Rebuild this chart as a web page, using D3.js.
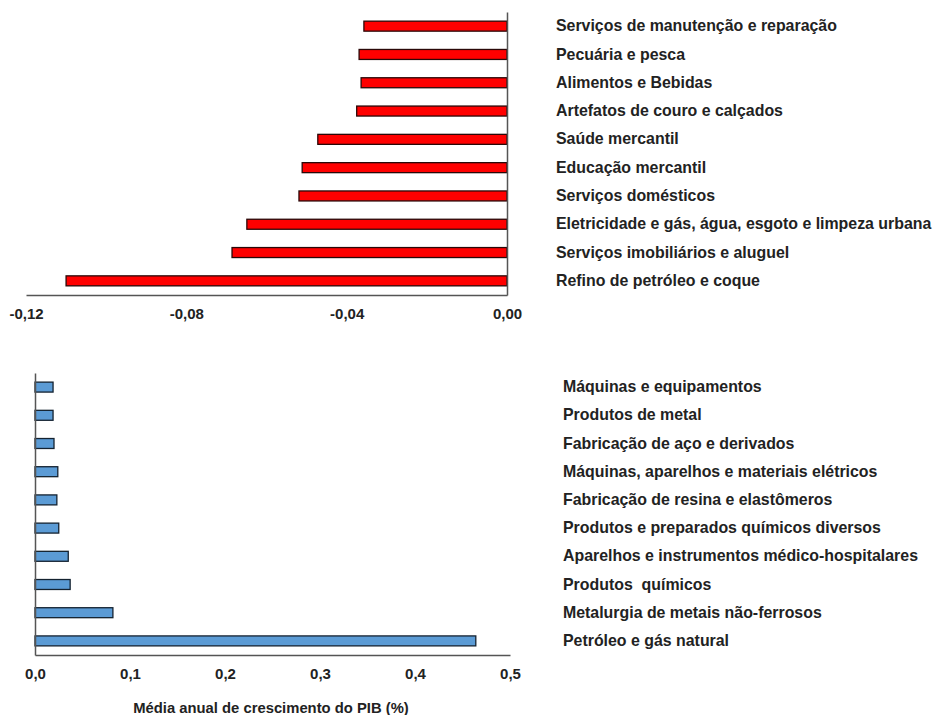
<!DOCTYPE html>
<html>
<head>
<meta charset="utf-8">
<script src="https://cdn.jsdelivr.net/npm/d3@7"></script>
<style>
  body { margin: 0; background: #fff; }
  svg text { font-family: "Liberation Sans", Arial, sans-serif; font-weight: bold; fill: #222; }
</style>
</head>
<body>
<svg id="chart" width="937" height="715"></svg>
<script>
// Setores com queda (gráfico de cima)
const negSectors = [
  "Serviços de manutenção e reparação",
  "Pecuária e pesca",
  "Alimentos e Bebidas",
  "Artefatos de couro e calçados",
  "Saúde mercantil",
  "Educação mercantil",
  "Serviços domésticos",
  "Eletricidade e gás, água, esgoto e limpeza urbana",
  "Serviços imobiliários e aluguel",
  "Refino de petróleo e coque"
];
const negValues = [-0.0357, -0.0369, -0.0364, -0.0375, -0.0472, -0.0511, -0.0519, -0.0649, -0.0686, -0.110];
const negTicks = [-0.12, -0.08, -0.04, 0.00];

// Setores com crescimento (gráfico de baixo)
const posSectors = [
  "Máquinas e equipamentos",
  "Produtos de metal",
  "Fabricação de aço e derivados",
  "Máquinas, aparelhos e materiais elétricos",
  "Fabricação de resina e elastômeros",
  "Produtos e preparados químicos diversos",
  "Aparelhos e instrumentos médico-hospitalares",
  "Produtos  químicos",
  "Metalurgia de metais não-ferrosos",
  "Petróleo e gás natural"
];
const posValues = [0.019, 0.019, 0.020, 0.024, 0.023, 0.025, 0.035, 0.037, 0.082, 0.464];
const posTicks = [0.0, 0.1, 0.2, 0.3, 0.4, 0.5];

const axisTitle = "Média anual de crescimento do PIB (%)";

const svg = d3.select("#chart");
const comma = f => v => d3.format(f)(v).replace(".", ",").replace("−", "-");

// ---------- top chart ----------
const xTop = d3.scaleLinear().domain([-0.12, 0]).range([26, 507]);
const yTop = d3.scaleBand().domain(negSectors).range([12, 295]).paddingInner(0.647).paddingOuter(0.3235);

const gTop = svg.append("g");

gTop.selectAll(".bar-neg")
  .data(negSectors)
  .join("rect")
    .attr("class", "bar-neg")
    .attr("x", (d, i) => xTop(negValues[i]))
    .attr("y", d => yTop(d))
    .attr("width", (d, i) => xTop(0) - xTop(negValues[i]))
    .attr("height", yTop.bandwidth())
    .attr("fill", "#ff0000")
    .attr("stroke", "#2a0808")
    .attr("stroke-width", 1.3);

// x axis
const xAxisTop = gTop.append("g")
  .attr("transform", "translate(0,295)")
  .call(d3.axisBottom(xTop).tickValues(negTicks).tickSize(0).tickPadding(13).tickFormat(comma(".2f")));
xAxisTop.select(".domain").attr("stroke", "#555").attr("stroke-width", 1.5);
xAxisTop.selectAll("text").style("font-size", "15px");

// y axis (labels at right)
const yAxisTop = gTop.append("g")
  .attr("transform", "translate(507,0)")
  .call(d3.axisRight(yTop).tickSize(0).tickPadding(49));
yAxisTop.select(".domain").attr("stroke", "#555").attr("stroke-width", 1.5);
yAxisTop.selectAll("text").style("font-size", "15.9px");

// ---------- bottom chart ----------
const xBot = d3.scaleLinear().domain([0, 0.5]).range([35, 510]);
const yBot = d3.scaleBand().domain(posSectors).range([373, 655]).paddingInner(0.647).paddingOuter(0.3235);

const gBot = svg.append("g");

gBot.selectAll(".bar-pos")
  .data(posSectors)
  .join("rect")
    .attr("class", "bar-pos")
    .attr("x", xBot(0))
    .attr("y", d => yBot(d))
    .attr("width", (d, i) => xBot(posValues[i]) - xBot(0))
    .attr("height", yBot.bandwidth())
    .attr("fill", "#5b9bd5")
    .attr("stroke", "#142230")
    .attr("stroke-width", 1.3);

const xAxisBot = gBot.append("g")
  .attr("transform", "translate(0,655)")
  .call(d3.axisBottom(xBot).tickValues(posTicks).tickSize(0).tickPadding(13).tickFormat(comma(".1f")));
xAxisBot.select(".domain").attr("stroke", "#555").attr("stroke-width", 1.5);
xAxisBot.selectAll("text").style("font-size", "15px");

const yAxisBot = gBot.append("g")
  .attr("transform", "translate(35,0)")
  .call(d3.axisLeft(yBot).tickSize(0).tickFormat(""));
yAxisBot.select(".domain").attr("stroke", "#555").attr("stroke-width", 1.5);

// category labels on the right side
gBot.selectAll(".lab-pos")
  .data(posSectors)
  .join("text")
    .attr("class", "lab-pos")
    .attr("x", 563)
    .attr("y", d => yBot(d) + yBot.bandwidth() / 2)
    .attr("dy", "0.32em")
    .style("font-size", "15.9px")
    .style("white-space", "pre")
    .text(d => d);

gBot.append("text")
  .attr("x", 271)
  .attr("y", 713)
  .attr("text-anchor", "middle")
  .style("font-size", "14.8px")
  .text(axisTitle);
</script>
</body>
</html>
